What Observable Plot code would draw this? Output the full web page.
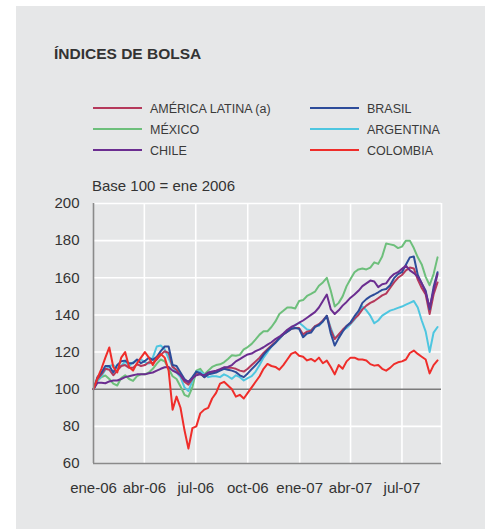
<!DOCTYPE html>
<html>
<head>
<meta charset="utf-8">
<script src="https://cdn.jsdelivr.net/npm/d3@7"></script>
<script src="https://cdn.jsdelivr.net/npm/@observablehq/plot@0.6"></script>
<style>
  html, body { margin: 0; padding: 0; background: #ffffff; }
  #wrap { position: relative; width: 485px; height: 529px; overflow: hidden; font-family: "Liberation Sans", Arial, Helvetica, sans-serif; }
  #panel { position: absolute; left: 16px; top: 6px; width: 469px; height: 523px; background: #e6e7e8; }
  #chart, #header { position: absolute; left: 0; top: 0; }
</style>
</head>
<body>
<div id="wrap">
  <div id="panel"></div>
  <div id="chart"></div>
  <svg id="header" width="485" height="200"></svg>
</div>
<script>
// ---------------- DATA ----------------
const titleText = "ÍNDICES DE BOLSA";
const subtitleText = "Base 100 = ene 2006";
const seriesNames = ["AMÉRICA LATINA (a)", "BRASIL", "MÉXICO", "ARGENTINA", "CHILE", "COLOMBIA"];
const seriesColors = ["#b5395b", "#2d4c9a", "#6dbf7b", "#4ec6e0", "#6b2d90", "#ef2d2a"];
const firstDate = "2006-01-01";   // weekly observations start here
const stepDays = 7;
const xTickDates = ["2006-01-01", "2006-04-01", "2006-07-01", "2006-10-01", "2007-01-01", "2007-04-01", "2007-07-01"];
const xTickLabels = ["ene-06", "abr-06", "jul-06", "oct-06", "ene-07", "abr-07", "jul-07"];
const xDomain = ["2006-01-01", "2007-09-09"];
const yTicks = [60, 80, 100, 120, 140, 160, 180, 200];

const americaLatina = [100,105.5,108,111,110.5,107.5,110,112.5,113,111.5,111.5,113.5,112.5,113,114.5,114,116,118.5,120.5,119.5,
  112,110.5,107.5,104,102.5,105.5,109,108.5,106.5,108,109,109.5,110.5,111.5,111.5,111.5,111,110,109.5,111,
  113,115,117,119.5,121.5,123.5,125.5,127.5,129.5,131,132.5,133,133,129.5,131,131.5,134,135,137,139.5,
  132,127,129.5,132,134,135.5,138,140,143,145,146.5,147.5,149,150.5,151.5,154.5,157.5,160,161.5,164,
  165.5,165,159,154.5,151,140.5,151,157.5];
const brasil = [100,106.5,109,112.5,112.5,109,113,115,115.4,114,114,116,114,115.2,117,115.8,117.5,120.5,123,123,
  113,112.5,109,105.5,103.8,106.5,109.5,108.5,106.5,108,108.5,109,110,111,110.5,110,109.2,107.5,106.5,108.5,
  110.8,113,115.4,118.5,121,123,125,127.5,129.5,131,132.5,133,132.5,128,130,130.5,133.4,134.6,136.5,139.5,
  130,123.5,127.5,131,134,136,139.3,142,146.5,148.5,150,151,152.2,153.5,154,156,159.8,162,163,167,
  171,171.5,161.5,157,153,143,155,163];
const mexico = [100,104.5,106.5,107.4,105.5,103,102,106,107.5,105.5,104.5,107,108,108,109,111,113.8,116,115,111,
  107,105.5,101.5,97,96,101,110,111,108,110,112,113,113.4,114.5,116.3,118.3,118,118.5,121.5,122.7,
  124.4,126.8,129.4,131.2,131.2,133.5,136.5,140.5,142.2,144,144,143.5,147.5,148,150.2,151.3,152.5,155.7,157.5,160,
  153,144.5,146.5,150,155.5,159.4,163,164.5,165,164.5,165.5,168.3,167.5,171.5,178.5,178,177.5,176,176.8,180,
  180,176,171,167.2,160.5,156,162,171];
const argentina = [100,104.7,107,110.5,112.5,113,111,112.5,115,112.5,114.5,115.5,116,114.5,113.8,117,123,123.5,121.5,116.5,
  112,109,106.5,101,99,104.5,109.5,109.5,108,106.5,107,107,106.5,108,107,105.6,107.5,106.5,104.7,106,
  107,109.5,113,117,120,123,125,127,129.6,131,132.8,134.5,135.8,134,132.2,131.8,134,134.2,136.5,139.5,
  133,127.5,129,131.6,133,135,137.5,140.5,144.5,142.5,139.6,135.5,137,139.6,141,142.3,143,143.8,144.5,145.5,
  146.5,147.5,144,137,131,120,130.5,133.5];
const chile = [100,103.5,103.5,103.2,104.2,104.7,104.7,105.5,106.5,107,107.5,108,108,108,108.6,109,110,111,111.8,112,
  110,109,107.5,104.8,104,105.8,107.5,108,107.5,109,109.5,110,110.8,111.8,112,113,115,116.2,117.5,118.7,
  119.2,120.5,121.5,122.6,124,125.3,127,128.3,130,132,133.5,134.5,135.8,137,138.5,140,141.5,144,147.5,151,
  143,140.5,142.5,145,147,149.3,151,153,155.5,157,158.5,158,155,156.5,157,160,162,163,164.8,166.5,
  164,162.5,160.5,157,152,144,153,162];
const colombia = [100,106,111,117,122.5,112,109,117,120,112,110,114,117,120,117,113,117,119,117,110,
  89,96,90,78,68,79,80,87,89,90,95,98,103,104,102,100,96,97,95,98,
  101,104,107,111,113.6,112.5,112,110.5,113,116,119,120,118,117.5,115.5,116.3,115,117,114,115.4,
  112,108,113,111,115,117,117,116,116,115.5,113.5,112.7,113,111,110,111.5,113.5,114.5,115,116,
  119.5,120.8,119,117.5,116,108.5,113,115.5];

const seriesValues = [americaLatina, brasil, mexico, argentina, chile, colombia];

// ---------------- BUILD TABLE ----------------
const start = new Date(firstDate);
const rows = [];
seriesNames.forEach((name, s) => {
  seriesValues[s].forEach((v, i) => {
    rows.push({ series: name, date: d3.utcDay.offset(start, stepDays * i), value: v });
  });
});
// drawing order (bottom to top)
const drawOrder = ["MÉXICO", "ARGENTINA", "AMÉRICA LATINA (a)", "BRASIL", "CHILE", "COLOMBIA"];
const tickDates = xTickDates.map(d => new Date(d));
const domainX = xDomain.map(d => new Date(d));
const labelOf = d => xTickLabels[tickDates.findIndex(t => +t === +d)];

const font = '"Liberation Sans", Arial, Helvetica, sans-serif';
const plot = Plot.plot({
  width: 485,
  height: 529,
  marginLeft: 93,
  marginRight: 44,
  marginTop: 203,
  marginBottom: 66,
  style: { background: "transparent", fontFamily: font, fontSize: "15px", color: "#333" },
  x: { type: "utc", domain: domainX, label: null },
  y: { domain: [60, 200], label: null },
  color: { domain: seriesNames, range: seriesColors },
  marks: [
    Plot.ruleY(yTicks.filter(t => t !== 60 && t !== 100), { stroke: "#ffffff", strokeWidth: 1.6 }),
    Plot.ruleX(tickDates.slice(1).concat([domainX[1]]), { stroke: "#ffffff", strokeWidth: 1.6 }),
    Plot.ruleY([100], { stroke: "#7b7b7b", strokeWidth: 1.6 }),
    ...drawOrder.map(name => Plot.line(rows.filter(r => r.series === name), {
      x: "date", y: "value", stroke: "series", strokeWidth: 2, strokeLinejoin: "round"
    })),
    Plot.ruleX([domainX[0]], { stroke: "#8a8a8a", strokeWidth: 1.6 }),
    Plot.ruleY([60], { x1: domainX[0], x2: domainX[1], stroke: "#8a8a8a", strokeWidth: 1.6 }),
    Plot.axisY({ ticks: yTicks, tickSize: 0, tickPadding: 14, fontSize: 15, fill: "#333", label: null }),
    Plot.axisX({ ticks: tickDates, tickFormat: labelOf, tickSize: 0, tickPadding: 19, fontSize: 15, fill: "#333", label: null })
  ]
});
document.getElementById("chart").appendChild(plot);

// ---------------- HEADER: title, legend, subtitle ----------------
const header = d3.select("#header").style("font-family", font);
header.append("text").attr("x", 54).attr("y", 59)
  .attr("font-size", 15.5).attr("font-weight", 700).attr("fill", "#333").text(titleText);

const colX = [93, 310];
const rowY = [108, 129, 150];
seriesNames.forEach((name, i) => {
  const cx = colX[i % 2], ry = rowY[Math.floor(i / 2)];
  header.append("line").attr("x1", cx).attr("x2", cx + 49).attr("y1", ry).attr("y2", ry)
    .attr("stroke", seriesColors[i]).attr("stroke-width", 2);
  header.append("text").attr("x", cx + 57).attr("y", ry + 5.3)
    .attr("font-size", 12.5).attr("fill", "#3a3a3a").text(name);
});
header.append("text").attr("x", 92).attr("y", 191.3)
  .attr("font-size", 15).attr("fill", "#333").text(subtitleText);
</script>
</body>
</html>
